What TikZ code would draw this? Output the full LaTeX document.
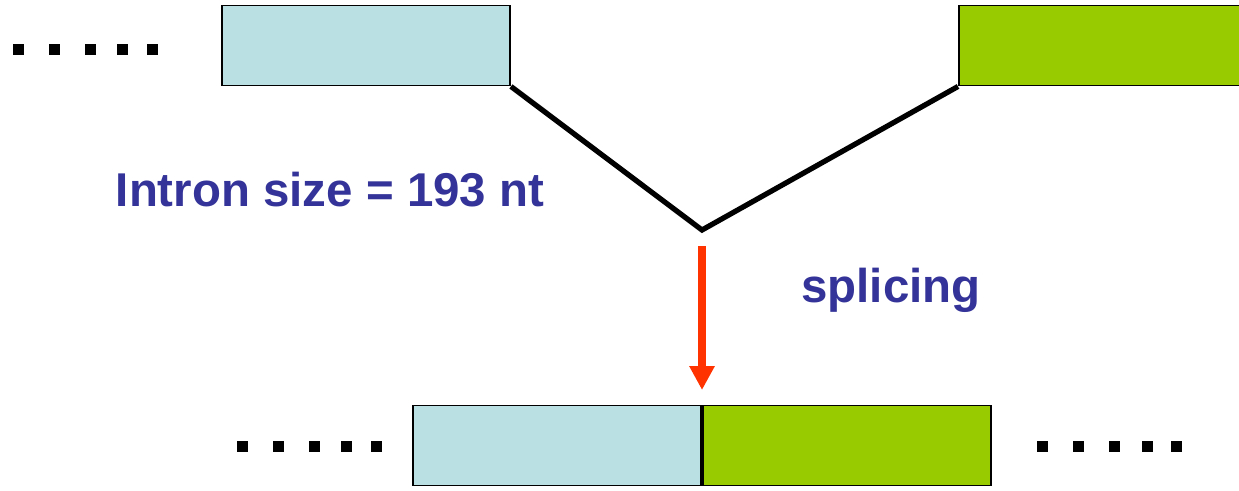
\documentclass[tikz,border=0pt]{standalone}
\usepackage{fontspec}
\setmainfont{Liberation Sans}
\usetikzlibrary{arrows.meta,positioning}

\definecolor{exonblue}{HTML}{BBE0E3}
\definecolor{exongreen}{HTML}{99CC00}
\definecolor{labelblue}{HTML}{333399}
\definecolor{arrowred}{HTML}{FF3300}

\tikzset{
  exon/.style={draw,line width=1.1pt,minimum height=1.6cm,inner sep=0pt},
  lbl/.style={text=labelblue,font=\fontsize{27}{32}\selectfont\bfseries,inner sep=0pt,anchor=base},
  dotsq/.style={fill=black,minimum size=0.22cm,inner sep=0pt}
}

\begin{document}
\begin{tikzpicture}[>=Stealth,x=0.02cm,y=-0.02cm]
  \useasboundingbox (0,0) rectangle (1239,490);
  % pre-mRNA exons
  \node[exon,fill=exonblue,minimum width=5.76cm] (exA) at (366,45.5) {};
  \node[exon,fill=exongreen,minimum width=5.62cm,anchor=west] (exB) at (958,45.5) {};
  \coordinate (bend) at (702,230);
  \draw[line width=3pt] (exA.south east)--(bend)--(exB.south west);
  \node[lbl] (isize) at (330,206) {Intron size = 193 nt};
  % splicing step
  \coordinate (arrtop) at (702,246);
  \coordinate (arrtip) at (702,390);
  \draw[arrowred,line width=4pt,-{Triangle[width=0.48cm,length=0.48cm]}] (arrtop)--(arrtip);
  \node[lbl] (splice) at (891,302) {splicing};
  % mature mRNA
  \node[exon,fill=exonblue,minimum width=5.76cm,anchor=east] (mA) at (702,445.5) {};
  \node[exon,fill=exongreen,minimum width=5.76cm,anchor=west] (mB) at (702,445.5) {};
  % dots
  \foreach \x in {18.5,54.5,90,122.5,152.5}
    \node[dotsq] at (\x,49.5) {};
  \foreach \x in {242.5,278.5,314,346.5,376.5}
    \node[dotsq] at (\x,446.5) {};
  \foreach \x in {1042.5,1078.5,1114,1147.5,1176.5}
    \node[dotsq] at (\x,446.5) {};
\end{tikzpicture}
\end{document}
